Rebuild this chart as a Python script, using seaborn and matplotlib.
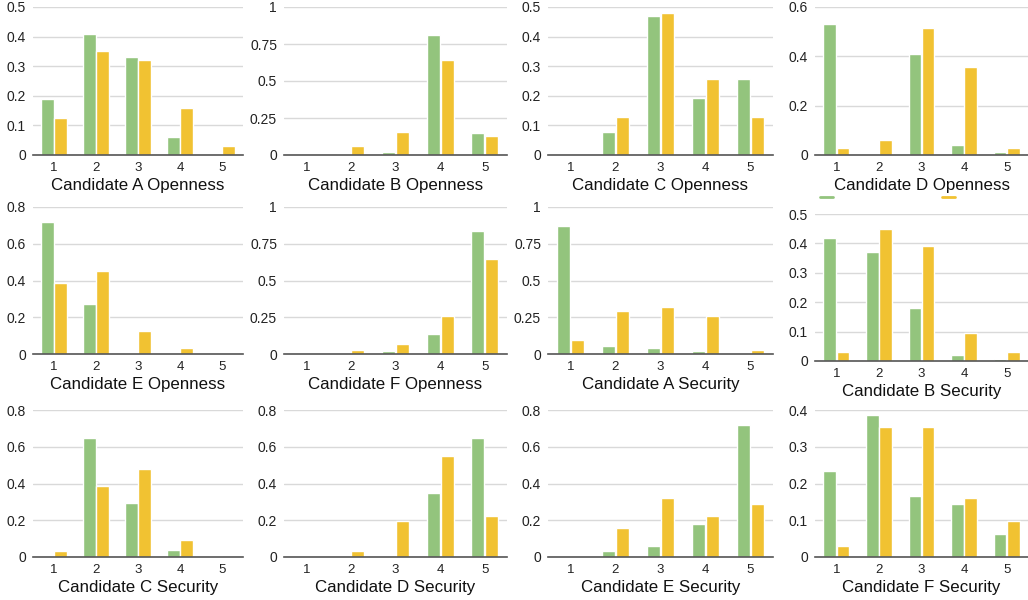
import seaborn as sns
import numpy as np
import pandas as pd
import matplotlib.pyplot as plt
from matplotlib.lines import Line2D
from matplotlib.ticker import FuncFormatter

# datos
ratings = [1, 2, 3, 4, 5]
titles = ["Candidate A Openness", "Candidate B Openness", "Candidate C Openness", "Candidate D Openness",
          "Candidate E Openness", "Candidate F Openness", "Candidate A Security", "Candidate B Security",
          "Candidate C Security", "Candidate D Security", "Candidate E Security", "Candidate F Security"]

green = [
    [0.19, 0.41, 0.33, 0.06, 0.0],
    [0.0, 0.005, 0.02, 0.81, 0.15],
    [0.0, 0.077, 0.47, 0.193, 0.256],
    [0.53, 0.0, 0.41, 0.04, 0.012],
    [0.72, 0.27, 0.005, 0.0, 0.0],
    [0.0, 0.0, 0.02, 0.135, 0.84],
    [0.87, 0.055, 0.04, 0.02, 0.0],
    [0.42, 0.37, 0.18, 0.02, 0.008],
    [0.0, 0.65, 0.295, 0.04, 0.008],
    [0.0, 0.0, 0.0, 0.35, 0.65],
    [0.0, 0.035, 0.06, 0.18, 0.72],
    [0.235, 0.387, 0.165, 0.145, 0.063],
]
yellow = [
    [0.125, 0.35, 0.32, 0.16, 0.03],
    [0.0, 0.06, 0.155, 0.645, 0.13],
    [0.0, 0.128, 0.48, 0.256, 0.128],
    [0.03, 0.06, 0.515, 0.355, 0.03],
    [0.385, 0.45, 0.125, 0.03, 0.0],
    [0.0, 0.03, 0.065, 0.26, 0.645],
    [0.095, 0.29, 0.32, 0.26, 0.03],
    [0.03, 0.45, 0.39, 0.095, 0.03],
    [0.03, 0.385, 0.48, 0.095, 0.0],
    [0.0, 0.03, 0.195, 0.55, 0.225],
    [0.0, 0.16, 0.32, 0.225, 0.29],
    [0.03, 0.355, 0.355, 0.16, 0.097],
]
y_max = [0.5, 1, 0.5, 0.6, 0.8, 1, 1, 0.5, 0.8, 0.8, 0.8, 0.4]
y_step = [0.1, 0.25, 0.1, 0.2, 0.2, 0.25, 0.25, 0.1, 0.2, 0.2, 0.2, 0.1]

colores = {"g": "#93c47d", "y": "#f1c232"}

sns.set_style("white")
plt.rcParams['font.family'] = ['Liberation Sans', 'DejaVu Sans']

W, H = 1028, 600
fig = plt.figure(figsize=(W / 100, H / 100), dpi=100)

# posiciones en pixeles de cada panel
col_x = [(33, 243), (284, 507), (548, 773), (815, 1028)]
row_y = [(7, 155), (207, 354), (410, 557)]

for i in range(12):
    r, c = divmod(i, 4)
    x0, x1 = col_x[c]
    y0, y1 = row_y[r]
    if i == 7:
        y0, y1 = 214, 361
    ax = fig.add_axes([x0 / W, 1 - y1 / H, (x1 - x0) / W, (y1 - y0) / H])

    df = pd.DataFrame({
        "rating": ratings * 2,
        "value": green[i] + yellow[i],
        "serie": ["g"] * 5 + ["y"] * 5,
    })
    sns.barplot(data=df, x="rating", y="value", hue="serie", palette=colores,
                width=0.62, gap=0.06, legend=False, ax=ax, saturation=1)

    ax.set_ylim(0, y_max[i])
    ax.set_yticks(np.arange(0, y_max[i] + 1e-9, y_step[i]))
    ax.yaxis.set_major_formatter(FuncFormatter(lambda v, p: "{:g}".format(round(v, 2))))
    ax.grid(axis="y", color="#d9d9d9", linewidth=1)
    ax.set_axisbelow(True)
    for s in ["top", "right", "left"]:
        ax.spines[s].set_visible(False)
    ax.spines["bottom"].set_color("#555555")
    ax.spines["bottom"].set_linewidth(1.2)
    ax.spines["bottom"].set_zorder(5)
    ax.tick_params(axis="y", length=0, labelsize=10, colors="#222222", pad=5)
    ax.tick_params(axis="x", length=0, labelsize=9.5, colors="#222222", pad=5)
    ax.set_xlabel(titles[i], fontsize=12.2, color="#111111", labelpad=3)
    ax.set_ylabel("")

# leyenda sin texto (como en el original)
handles = [Line2D([], [], color=colores["g"], lw=2), Line2D([], [], color=colores["y"], lw=2)]
fig.legend(handles, ["", ""], loc="center left", bbox_to_anchor=(820 / W, 1 - 198 / H),
           ncol=2, frameon=False, fontsize=10, handlelength=0.95, handletextpad=0.4,
           columnspacing=7.4, borderpad=0, borderaxespad=0)

plt.savefig("out.png", dpi=100)
